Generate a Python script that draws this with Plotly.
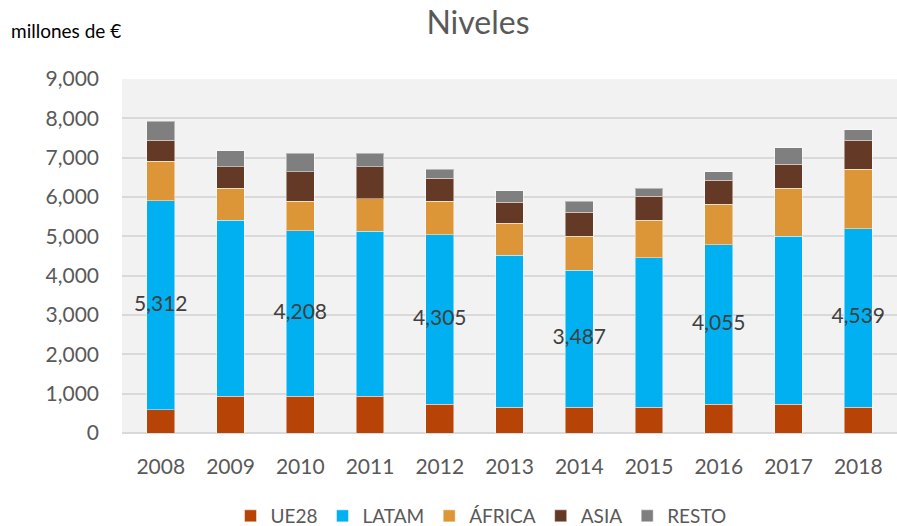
import plotly.graph_objects as go

years = ["2008", "2009", "2010", "2011", "2012", "2013", "2014", "2015", "2016", "2017", "2018"]
ue28 = [590, 937, 937, 937, 733, 656, 656, 656, 733, 733, 656]
latam = [5312, 4478, 4208, 4198, 4305, 3868, 3487, 3802, 4055, 4275, 4539]
africa = [1006, 806, 746, 824, 853, 814, 865, 957, 1026, 1213, 1510]
asia = [535, 542, 745, 804, 592, 535, 603, 603, 611, 611, 738]
resto = [483, 417, 476, 349, 222, 290, 280, 203, 211, 415, 272]

series = [
    ("UE28", ue28, "#B84306"),
    ("LATAM", latam, "#00B0F0"),
    ("ÁFRICA", africa, "#DD9637"),
    ("ASIA", asia, "#643926"),
    ("RESTO", resto, "#7F7F7F"),
]

FONT = "Lato"
fig = go.Figure()
for name, vals, col in series:
    fig.add_trace(go.Bar(
        x=years, y=vals, name=name,
        marker=dict(color=col, line=dict(color="rgba(255,255,255,0.45)", width=1)),
        hoverinfo="skip",
    ))

# LATAM labels on even years, centred on the LATAM segment
lab_x = [y for i, y in enumerate(years) if i % 2 == 0]
lab_y = [ue28[i] + latam[i] / 2 for i in range(len(years)) if i % 2 == 0]
lab_t = [f"{latam[i]:,}" for i in range(len(years)) if i % 2 == 0]
fig.add_trace(go.Scatter(
    x=lab_x, y=lab_y, text=lab_t, mode="text", showlegend=False,
    textfont=dict(family=FONT, size=21, color="#404040"), textposition="middle center",
    hoverinfo="skip",
))

fig.update_layout(
    width=897, height=526,
    barmode="stack", bargap=0.6,
    paper_bgcolor="white", plot_bgcolor="#F2F2F2",
    margin=dict(l=122, r=0, t=79, b=93, autoexpand=False),
    font=dict(family=FONT, color="#595959", size=21),
    title=dict(text="Niveles", x=478 / 897, xanchor="center", y=1 - 23 / 526, yanchor="middle",
               font=dict(family=FONT, size=32, color="#595959")),
    showlegend=True,
    legend=dict(orientation="h", xref="container", yref="container", x=481 / 897, xanchor="center",
                y=10 / 526, yanchor="middle", font=dict(family=FONT, size=19, color="#595959"),
                itemwidth=30, traceorder="normal", bgcolor="rgba(0,0,0,0)"),
    yaxis=dict(range=[0, 9000], dtick=1000, tickformat=",", gridcolor="#D9D9D9", gridwidth=1.5,
               zeroline=True, zerolinecolor="#D9D9D9", zerolinewidth=1.5,
               ticklabelstandoff=22, showline=False, fixedrange=True, automargin=False),
    xaxis=dict(showline=False, ticklabelstandoff=19, fixedrange=True, automargin=False),
    annotations=[dict(text="millones de €", xref="paper", yref="paper", x=10 / 897 - 122 / 775, y=1 + 49 / 354,
                      xanchor="left", yanchor="middle", showarrow=False,
                      font=dict(family=FONT, size=19, color="#000000"))],
)
fig.write_html("out.html", config={"displayModeBar": False},
               post_script="document.body.style.margin='0';document.body.style.overflow='hidden';")
